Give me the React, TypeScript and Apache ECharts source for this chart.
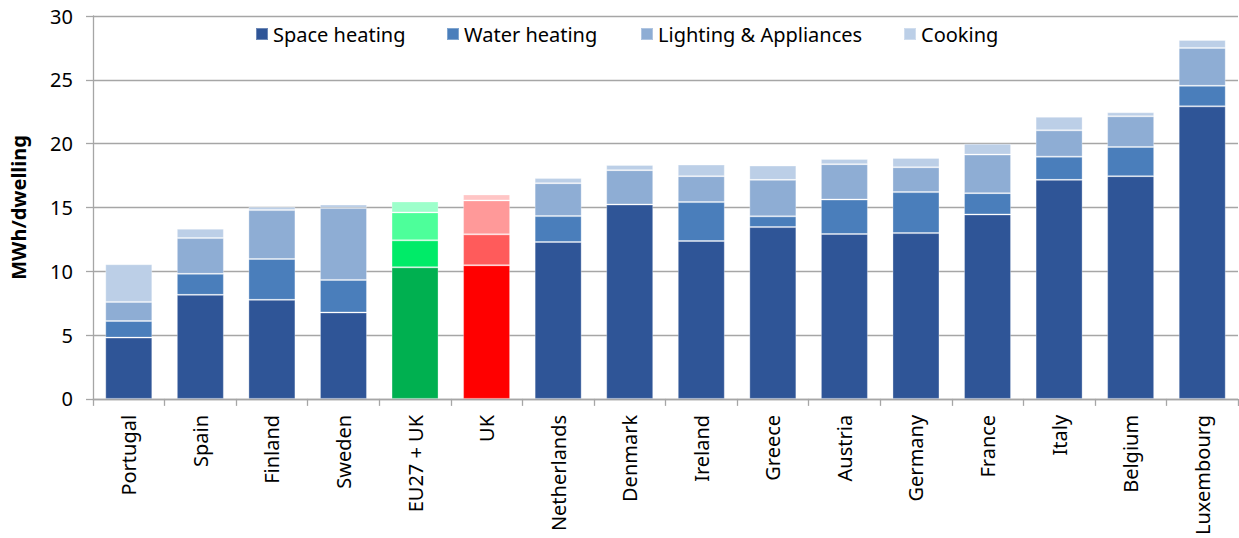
import React, { useEffect, useRef } from "react";
import * as echarts from "echarts";

// Household energy use per dwelling, split by end use (MWh/dwelling)
const categories = [
  "Portugal", "Spain", "Finland", "Sweden", "EU27 + UK", "UK", "Netherlands", "Denmark",
  "Ireland", "Greece", "Austria", "Germany", "France", "Italy", "Belgium", "Luxembourg",
];
const spaceHeating = [4.8, 8.15, 7.76, 6.77, 10.31, 10.47, 12.29, 15.23, 12.37, 13.46, 12.92, 12.99, 14.45, 17.16, 17.45, 22.92];
const waterHeating = [1.3, 1.65, 3.2, 2.55, 2.11, 2.42, 2.03, 0, 3.05, 0.84, 2.7, 3.21, 1.67, 1.82, 2.29, 1.61];
const lightingAppliances = [1.5, 2.8, 3.83, 5.63, 2.19, 2.66, 2.58, 2.69, 2.03, 2.86, 2.77, 1.95, 3.02, 2.06, 2.4, 2.97];
const cooking = [2.95, 0.73, 0.26, 0.28, 0.86, 0.47, 0.4, 0.41, 0.91, 1.12, 0.41, 0.73, 0.86, 1.06, 0.31, 0.62];

const seriesNames = ["Space heating", "Water heating", "Lighting & Appliances", "Cooking"];
const seriesValues = [spaceHeating, waterHeating, lightingAppliances, cooking];
const blueShades = ["#2F5597", "#4A7EBB", "#8EADD4", "#BCCFE7"];
const greenShades = ["#00B050", "#00EB68", "#4DFF9A", "#9DFFCB"];
const redShades = ["#FF0000", "#FF5B5B", "#FF9999", "#FFC5C5"];

const yMin = 0;
const yMax = 30;
const yStep = 5;

// left edge of each legend entry
const legendLefts = [255, 446, 640, 903];

const FONT = "'Noto Sans', 'DejaVu Sans', sans-serif";

export default function App() {
  const ref = useRef<HTMLDivElement>(null);

  useEffect(() => {
    if (!ref.current) return;
    const chart = echarts.init(ref.current, undefined, { renderer: "svg" });

    const series = seriesNames.map((name, si) => ({
      name,
      type: "bar",
      stack: "total",
      barWidth: 47,
      itemStyle: {
        color: blueShades[si],
        borderColor: "rgba(255,255,255,0.3)",
        borderWidth: 1,
      },
      emphasis: { disabled: true },
      data: seriesValues[si].map((v, ci) => {
        const cat = categories[ci];
        if (cat === "EU27 + UK") return { value: v, itemStyle: { color: greenShades[si] } };
        if (cat === "UK") return { value: v, itemStyle: { color: redShades[si] } };
        return v;
      }),
    }));

    chart.setOption({
      animation: false,
      color: blueShades,
      grid: { left: 93, right: 1, top: 16, bottom: 138, containLabel: false },
      legend: seriesNames.map((name, i) => ({
        data: [name],
        left: legendLefts[i],
        top: 24,
        padding: 0,
        icon: "rect",
        itemWidth: 12,
        itemHeight: 12,
        selectedMode: false,
        textStyle: { fontFamily: FONT, fontSize: 20, color: "#000" },
      })),
      xAxis: {
        type: "category",
        data: categories,
        boundaryGap: true,
        axisLine: { show: true, lineStyle: { color: "#A6A6A6", width: 1.3 } },
        axisTick: { show: true, length: 7, alignWithLabel: false, lineStyle: { color: "#A6A6A6", width: 1.3 } },
        axisLabel: {
          rotate: 90,
          interval: 0,
          margin: 16,
          fontFamily: FONT,
          fontSize: 20,
          color: "#000",
        },
      },
      yAxis: {
        type: "value",
        min: yMin,
        max: yMax,
        interval: yStep,
        name: "MWh/dwelling",
        nameLocation: "middle",
        nameRotate: 90,
        nameGap: 65,
        nameTextStyle: { fontFamily: FONT, fontSize: 20, fontWeight: "bold", color: "#000" },
        axisLine: { show: true, lineStyle: { color: "#A6A6A6", width: 1.3 } },
        axisTick: { show: true, length: 7, lineStyle: { color: "#A6A6A6", width: 1.3 } },
        axisLabel: { margin: 20, fontFamily: FONT, fontSize: 20, color: "#000" },
        splitLine: { show: true, lineStyle: { color: "#A6A6A6", width: 1.3 } },
      },
      series,
    });

    return () => chart.dispose();
  }, []);

  return (
    <div
      ref={ref}
      style={{ position: "fixed", left: 0, top: 0, width: 1239, height: 538, background: "#fff" }}
    />
  );
}
